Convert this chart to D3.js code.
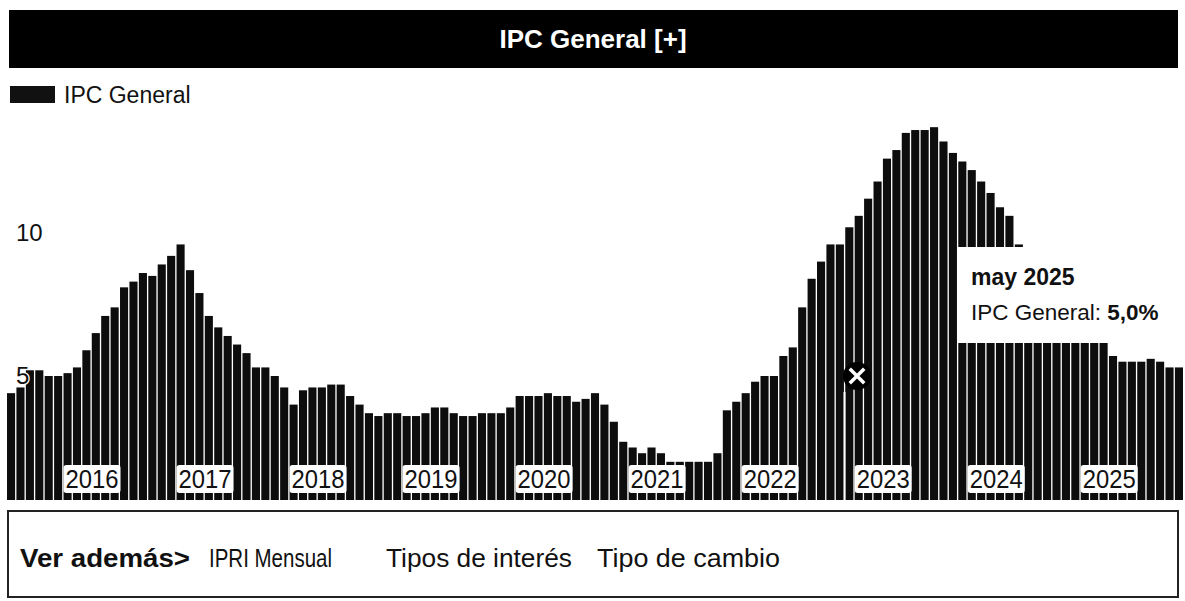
<!DOCTYPE html>
<html>
<head>
<meta charset="utf-8">
<script src="https://cdn.jsdelivr.net/npm/d3@7"></script>
<style>
body { margin: 0; background: #fff; }
svg text { font-family: "Liberation Sans", Arial, sans-serif; }
</style>
</head>
<body>
<svg id="chart" width="1185" height="601"></svg>
<script>
// data: monthly, jul 2015 .. nov 2025
var chartTitle = "IPC General [+]";
var seriesName = "IPC General";
var months = d3.timeMonth.range(new Date(2015, 6, 1), new Date(2025, 11, 1));
var ipcGeneral = [
  4.4, 4.6, 5.2, 5.2, 5.0, 5.0, 5.1, 5.3, 5.9, 6.5,
  7.1, 7.4, 8.1, 8.3, 8.6, 8.5, 8.9, 9.2, 9.6, 8.7,
  7.9, 7.1, 6.7, 6.4, 6.1, 5.8, 5.3, 5.3, 5.0, 4.6,
  4.0, 4.5, 4.6, 4.6, 4.7, 4.7, 4.3, 4.0, 3.7, 3.6,
  3.7, 3.7, 3.6, 3.6, 3.7, 3.9, 3.9, 3.7, 3.6, 3.6,
  3.7, 3.7, 3.7, 3.9, 4.3, 4.3, 4.3, 4.4, 4.3, 4.3,
  4.1, 4.2, 4.4, 4.0, 3.4, 2.7, 2.5, 2.3, 2.5, 2.3,
  2.0, 2.0, 2.0, 2.0, 2.0, 2.3, 3.8, 4.1, 4.4, 4.8,
  5.0, 5.0, 5.7, 6.0, 7.4, 8.4, 9.0, 9.6, 9.6, 10.2,
  10.6, 11.2, 11.8, 12.6, 12.9, 13.5, 13.6, 13.6, 13.7, 13.2,
  12.8, 12.5, 12.2, 11.8, 11.4, 10.9, 10.6, 9.6, 9.3, 9.0,
  8.7, 8.4, 8.0, 7.7, 7.3, 7.0, 6.6, 5.7, 5.5, 5.5,
  5.5, 5.6, 5.5, 5.3, 5.3
];
var yTicks = [5, 10];
var tipDate = "may 2025";
var tipLabel = "IPC General: ";
var tipValue = "5,0%";
var links = ["IPRI Mensual", "Tipos de interés", "Tipo de cambio"];
var linksLead = "Ver además>";

var svg = d3.select("#chart");
var plotBottom = 500;

var x = d3.scaleBand().domain(months).range([7, 1183]).paddingInner(0.14).paddingOuter(0);
var y = d3.scaleLinear().domain([0, 10]).range([519, 233]);

// header
svg.append("rect").attr("x", 9).attr("y", 10).attr("width", 1169).attr("height", 58).attr("fill", "#000");
svg.append("text").attr("x", 593).attr("y", 48).attr("text-anchor", "middle")
  .attr("fill", "#fff").attr("font-weight", "bold").attr("font-size", 26).text(chartTitle);

// legend
svg.append("rect").attr("x", 10).attr("y", 86).attr("width", 45).attr("height", 17).attr("fill", "#111");
svg.append("text").attr("x", 64).attr("y", 103).attr("font-size", 23).attr("fill", "#111").text(seriesName);

// bars
var bars = svg.append("g");
bars.selectAll("rect").data(months).join("rect")
  .attr("x", function (d) { return x(d); })
  .attr("y", function (d, i) { return y(ipcGeneral[i]); })
  .attr("width", x.bandwidth())
  .attr("height", function (d, i) { return plotBottom - y(ipcGeneral[i]); })
  .attr("fill", "#0d0d0d");

// y labels
var yAxis = svg.append("g").attr("transform", "translate(16,0)")
  .call(d3.axisRight(y).tickValues(yTicks).tickSize(0).tickPadding(0));
yAxis.select(".domain").remove();
yAxis.selectAll("text").attr("font-size", 24).attr("fill", "#111")
  .attr("font-family", "'Liberation Sans', Arial, sans-serif")
  .attr("stroke", "#fff").attr("stroke-width", 2.5).attr("paint-order", "stroke");

// year labels on white boxes
var years = months.filter(function (d) { return d.getMonth() === 0; });
var yearG = svg.append("g").selectAll("g").data(years).join("g");
yearG.append("text")
  .attr("x", function (d) { return x(d) + 2; })
  .attr("y", 488)
  .attr("font-size", 25).attr("fill", "#111")
  .attr("textLength", 53).attr("lengthAdjust", "spacingAndGlyphs")
  .text(function (d) { return d.getFullYear(); });
yearG.each(function () {
  var g = d3.select(this);
  var b = g.select("text").node().getBBox();
  g.insert("rect", "text").attr("x", b.x - 2).attr("y", 465).attr("width", b.width + 4).attr("height", 28)
    .attr("rx", 3).attr("fill", "#fff");
});

// tooltip box over the bars
svg.append("rect").attr("x", 957).attr("y", 247).attr("width", 215).attr("height", 96).attr("fill", "#fff");
svg.append("text").attr("x", 971).attr("y", 285).attr("font-size", 23).attr("font-weight", "bold")
  .attr("fill", "#111").text(tipDate);
var tip2 = svg.append("text").attr("x", 971).attr("y", 320).attr("font-size", 22.5).attr("fill", "#111");
tip2.append("tspan").text(tipLabel);
tip2.append("tspan").attr("font-weight", "bold").text(tipValue);

// hover marker
svg.append("line").attr("x1", 844.5).attr("x2", 844.5).attr("y1", 392).attr("y2", plotBottom)
  .attr("stroke", "#fff").attr("stroke-width", 2);
svg.append("circle").attr("cx", 857).attr("cy", 376).attr("r", 14).attr("fill", "#000");
svg.append("path").attr("d", "M851,370L863,382M863,370L851,382")
  .attr("stroke", "#fff").attr("stroke-width", 3.5).attr("stroke-linecap", "square");

// see-also box
svg.append("rect").attr("x", 8).attr("y", 511).attr("width", 1170).attr("height", 86)
  .attr("fill", "none").attr("stroke", "#222").attr("stroke-width", 2);
svg.append("text").attr("x", 20).attr("y", 567).attr("font-size", 26).attr("font-weight", "bold")
  .attr("fill", "#111").attr("textLength", 170).attr("lengthAdjust", "spacingAndGlyphs").text(linksLead);
var linkX = [209, 386, 597];
var linkW = [123, 186, 183];
svg.selectAll("text.link").data(links).join("text").attr("class", "link")
  .attr("x", function (d, i) { return linkX[i]; })
  .attr("y", 567).attr("font-size", 26).attr("fill", "#111")
  .attr("textLength", function (d, i) { return linkW[i]; })
  .attr("lengthAdjust", "spacingAndGlyphs")
  .text(function (d) { return d; });
</script>
</body>
</html>
